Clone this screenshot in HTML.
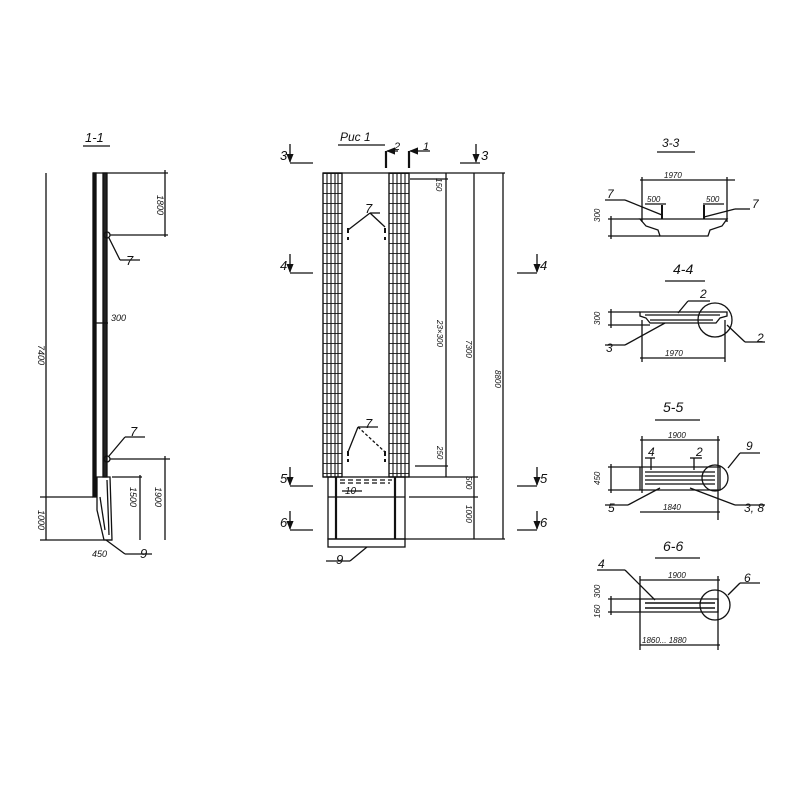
<!DOCTYPE html>
<html><head><meta charset="utf-8"><style>
body{margin:0;background:#fff}
svg{display:block}
text{font-family:"Liberation Sans",sans-serif;font-style:italic;fill:#111}
</style></head><body>
<svg width="800" height="800" viewBox="0 0 800 800" xmlns="http://www.w3.org/2000/svg">
<defs>
<pattern id="rung" x="0" y="173" width="20" height="10" patternUnits="userSpaceOnUse">
<line x1="0" y1="0.5" x2="20" y2="0.5" stroke="#333" stroke-width="0.9"/>
</pattern>
<marker id="ar" viewBox="0 0 10 10" refX="9" refY="5" markerWidth="7" markerHeight="7" orient="auto"><path d="M0 1L10 5L0 9Z" fill="#111"/></marker>
</defs>
<g stroke="#111" fill="none" stroke-width="1.3">
<!-- 1-1 -->
<text x="85" y="142" font-size="13" stroke="none">1-1</text>
<line x1="83" y1="146" x2="110" y2="146"/>
<rect x="93" y="173" width="3" height="324" fill="#111"/>
<rect x="103" y="173" width="4" height="304" fill="#222"/>
<line x1="93" y1="173" x2="107" y2="173"/>
<path d="M97 477 L110 477 L112 540 L104 540 L97 510 Z"/>
<path d="M100 497 L105 530 M107 480 L109 535"/>
<line x1="46" y1="173" x2="46" y2="540"/>
<line x1="40" y1="497" x2="93" y2="497"/>
<line x1="40" y1="540" x2="112" y2="540"/>
<line x1="107" y1="173" x2="168" y2="173"/>
<line x1="165" y1="170" x2="165" y2="237"/>
<line x1="110" y1="235" x2="168" y2="235"/>
<circle cx="107" cy="235" r="3"/>
<line x1="109" y1="238" x2="120" y2="260"/><line x1="120" y1="260" x2="140" y2="260"/>
<circle cx="107" cy="459" r="3"/>
<line x1="109" y1="456" x2="125" y2="437"/><line x1="125" y1="437" x2="145" y2="437"/>
<line x1="110" y1="459" x2="170" y2="459"/>
<line x1="165" y1="456" x2="165" y2="540"/>
<line x1="112" y1="477" x2="142" y2="477"/>
<line x1="140" y1="475" x2="140" y2="540"/>
<line x1="106" y1="540" x2="125" y2="554"/><line x1="125" y1="554" x2="152" y2="554"/>
<line x1="93" y1="323" x2="108" y2="323"/>
</g>
<g font-size="9" stroke="none">
<text x="0" y="0" transform="translate(38,345) rotate(90)">7400</text>
<text x="0" y="0" transform="translate(38,510) rotate(90)">1000</text>
<text x="0" y="0" transform="translate(157,195) rotate(90)">1800</text>
<text x="0" y="0" transform="translate(130,487) rotate(90)">1500</text>
<text x="0" y="0" transform="translate(155,487) rotate(90)">1900</text>
<text x="111" y="321">300</text><text x="92" y="557">450</text>
</g>
<text x="126" y="265" font-size="13">7</text>
<text x="130" y="436" font-size="13">7</text>
<text x="140" y="558" font-size="13">9</text>

<!-- Рис 1 -->
<g stroke="#111" fill="none" stroke-width="1.3">
<text x="340" y="141" font-size="12" stroke="none">Рис 1</text>
<line x1="338" y1="145" x2="385" y2="145"/>
<rect x="323" y="173" width="19" height="304" fill="url(#rung)"/>
<rect x="389" y="173" width="20" height="304" fill="url(#rung)"/>
<path d="M323 173V477M327 173V477M331 173V477M335 173V477M338 173V477M342 173V477" stroke-width="1.1"/>
<path d="M389 173V477M393 173V477M397 173V477M401 173V477M405 173V477M409 173V477" stroke-width="1.1"/>
<line x1="323" y1="173" x2="409" y2="173"/>
<line x1="323" y1="477" x2="342" y2="477"/><line x1="389" y1="477" x2="409" y2="477"/>
<rect x="328" y="477" width="77" height="62"/>
<line x1="336" y1="477" x2="336" y2="539" stroke-width="2.2"/>
<line x1="395" y1="477" x2="395" y2="539" stroke-width="2.2"/>
<line x1="328" y1="497" x2="405" y2="497"/>
<path d="M340 480H392M340 483H390" stroke-dasharray="5 3"/>
<rect x="328" y="539" width="77" height="8"/>
<line x1="367" y1="547" x2="350" y2="561"/><line x1="350" y1="561" x2="326" y2="561"/>
<line x1="342" y1="491" x2="362" y2="491"/>
<line x1="348" y1="230" x2="370" y2="213"/><line x1="370" y1="213" x2="385" y2="227"/><line x1="370" y1="213" x2="380" y2="213"/>
<path d="M348 228v5M348 237v3M385 228v5M385 237v3" stroke-width="2"/>
<line x1="348" y1="452" x2="358" y2="427"/><line x1="358" y1="427" x2="385" y2="452" stroke-dasharray="3 2"/><line x1="358" y1="427" x2="378" y2="427"/>
<path d="M348 451v5M348 459v3M385 451v5M385 459v3" stroke-width="2"/>
<!-- section marks -->
<line x1="290" y1="163" x2="313" y2="163"/><line x1="290" y1="144" x2="290" y2="162" marker-end="url(#ar)"/>
<line x1="460" y1="163" x2="480" y2="163"/><line x1="476" y1="144" x2="476" y2="162" marker-end="url(#ar)"/>
<line x1="290" y1="273" x2="313" y2="273"/><line x1="290" y1="254" x2="290" y2="272" marker-end="url(#ar)"/>
<line x1="517" y1="273" x2="537" y2="273"/><line x1="537" y1="254" x2="537" y2="272" marker-end="url(#ar)"/>
<line x1="290" y1="486" x2="313" y2="486"/><line x1="290" y1="467" x2="290" y2="485" marker-end="url(#ar)"/>
<line x1="517" y1="486" x2="537" y2="486"/><line x1="537" y1="467" x2="537" y2="485" marker-end="url(#ar)"/>
<line x1="290" y1="530" x2="313" y2="530"/><line x1="290" y1="511" x2="290" y2="529" marker-end="url(#ar)"/>
<line x1="517" y1="530" x2="537" y2="530"/><line x1="537" y1="511" x2="537" y2="529" marker-end="url(#ar)"/>
<line x1="386" y1="151" x2="386" y2="168" stroke-width="2.2"/><line x1="398" y1="151" x2="387" y2="151" marker-end="url(#ar)"/>
<line x1="409" y1="151" x2="409" y2="168" stroke-width="2.2"/><line x1="430" y1="151" x2="410" y2="151" marker-end="url(#ar)"/>
<!-- dims -->
<line x1="409" y1="173" x2="505" y2="173"/>
<line x1="410" y1="179" x2="448" y2="179"/>
<line x1="446" y1="173" x2="446" y2="477"/>
<line x1="474" y1="173" x2="474" y2="539"/>
<line x1="503" y1="173" x2="503" y2="539"/>
<line x1="415" y1="466" x2="448" y2="466"/>
<line x1="409" y1="477" x2="478" y2="477"/>
<line x1="409" y1="497" x2="478" y2="497"/>
<line x1="405" y1="539" x2="505" y2="539"/>
</g>
<g font-size="13" stroke="none">
<text x="280" y="160">3</text><text x="481" y="160">3</text>
<text x="280" y="270">4</text><text x="540" y="270">4</text>
<text x="280" y="483">5</text><text x="540" y="483">5</text>
<text x="280" y="527">6</text><text x="540" y="527">6</text>
<text x="365" y="213">7</text><text x="365" y="428">7</text>
<text x="336" y="564">9</text>
<text x="394" y="150" font-size="11">2</text><text x="423" y="150" font-size="11">1</text>
<text x="345" y="494" font-size="10">10</text>
</g>
<g font-size="8" stroke="none">
<text transform="translate(436,178) rotate(90)">150</text>
<text transform="translate(437,320) rotate(90)">23×300</text>
<text transform="translate(437,446) rotate(90)">250</text>
<text transform="translate(466,340) rotate(90)">7300</text>
<text transform="translate(466,476) rotate(90)">500</text>
<text transform="translate(466,505) rotate(90)">1000</text>
<text transform="translate(495,370) rotate(90)">8800</text>
</g>

<!-- right sections -->
<g stroke="#111" fill="none" stroke-width="1.3">
<text x="662" y="147" font-size="12" stroke="none">3-3</text><line x1="657" y1="152" x2="695" y2="152"/>
<line x1="640" y1="180" x2="735" y2="180"/>
<line x1="642" y1="177" x2="642" y2="222"/><line x1="727" y1="177" x2="727" y2="222"/>
<path d="M640 219H727L722 226L710 230L708 236H660L658 230L646 226Z"/>
<line x1="645" y1="204" x2="666" y2="204"/><line x1="703" y1="204" x2="724" y2="204"/>
<line x1="662" y1="205" x2="662" y2="219" stroke-width="2"/><line x1="704" y1="205" x2="704" y2="219" stroke-width="2"/>
<line x1="605" y1="200" x2="625" y2="200"/><line x1="625" y1="200" x2="662" y2="215"/>
<line x1="750" y1="209" x2="735" y2="209"/><line x1="735" y1="209" x2="704" y2="217"/>
<line x1="608" y1="219" x2="640" y2="219"/><line x1="608" y1="236" x2="660" y2="236"/>
<line x1="611" y1="216" x2="611" y2="239"/>

<text x="673" y="274" font-size="14" stroke="none">4-4</text><line x1="665" y1="281" x2="705" y2="281"/>
<path d="M640 312H727V316L720 318L716 323H650L646 318L640 316Z"/>
<path d="M645 315H720M650 320H713"/>
<circle cx="715" cy="320" r="17"/>
<line x1="688" y1="301" x2="710" y2="301"/><line x1="688" y1="301" x2="678" y2="313"/>
<line x1="727" y1="325" x2="745" y2="342"/><line x1="745" y1="342" x2="765" y2="342"/>
<line x1="605" y1="345" x2="625" y2="345"/><line x1="625" y1="345" x2="665" y2="323"/>
<line x1="608" y1="312" x2="640" y2="312"/><line x1="608" y1="325" x2="650" y2="325"/>
<line x1="611" y1="309" x2="611" y2="328"/>
<line x1="640" y1="358" x2="725" y2="358"/>
<line x1="642" y1="320" x2="642" y2="362"/><line x1="725" y1="320" x2="725" y2="362"/>

<text x="663" y="412" font-size="14" stroke="none">5-5</text><line x1="655" y1="420" x2="700" y2="420"/>
<line x1="640" y1="440" x2="720" y2="440"/>
<line x1="642" y1="436" x2="642" y2="493"/><line x1="718" y1="436" x2="718" y2="520"/>
<path d="M640 467H720V490H640Z"/>
<path d="M645 472H715M645 476H715M645 480H715M645 484H715" stroke-width="1.3"/>
<circle cx="715" cy="478" r="13"/>
<line x1="651" y1="458" x2="651" y2="470"/><line x1="645" y1="458" x2="655" y2="458"/>
<line x1="694" y1="458" x2="694" y2="470"/><line x1="690" y1="458" x2="702" y2="458"/>
<line x1="728" y1="468" x2="740" y2="453"/><line x1="740" y1="453" x2="760" y2="453"/>
<line x1="605" y1="505" x2="628" y2="505"/><line x1="628" y1="505" x2="660" y2="488"/>
<line x1="690" y1="488" x2="735" y2="505"/><line x1="735" y1="505" x2="765" y2="505"/>
<line x1="608" y1="467" x2="640" y2="467"/><line x1="608" y1="490" x2="640" y2="490"/>
<line x1="611" y1="464" x2="611" y2="493"/>
<line x1="640" y1="512" x2="720" y2="512"/>

<text x="663" y="551" font-size="14" stroke="none">6-6</text><line x1="655" y1="558" x2="700" y2="558"/>
<line x1="640" y1="580" x2="720" y2="580"/>
<line x1="640" y1="576" x2="640" y2="650"/><line x1="718" y1="576" x2="718" y2="650"/>
<path d="M640 599H718V612H640Z"/>
<path d="M645 603H715M645 608H715" stroke-width="1.5"/>
<circle cx="715" cy="605" r="15"/>
<line x1="597" y1="570" x2="625" y2="570"/><line x1="625" y1="570" x2="655" y2="600"/>
<line x1="728" y1="595" x2="740" y2="583"/><line x1="740" y1="583" x2="760" y2="583"/>
<line x1="608" y1="599" x2="640" y2="599"/><line x1="608" y1="612" x2="640" y2="612"/>
<line x1="611" y1="596" x2="611" y2="615"/>
<line x1="640" y1="645" x2="720" y2="645"/>
</g>
<g font-size="8" stroke="none">
<text x="664" y="178">1970</text>
<text x="647" y="202">500</text><text x="706" y="202">500</text>
<text transform="translate(600,222) rotate(-90)">300</text>
<text x="665" y="356">1970</text>
<text transform="translate(600,325) rotate(-90)">300</text>
<text x="668" y="438">1900</text>
<text x="663" y="510">1840</text>
<text transform="translate(600,485) rotate(-90)">450</text>
<text x="668" y="578">1900</text>
<text x="642" y="643">1860... 1880</text>
<text transform="translate(600,598) rotate(-90)">300</text>
<text transform="translate(600,618) rotate(-90)">160</text>
</g>
<g font-size="12" stroke="none">
<text x="607" y="198">7</text><text x="752" y="208">7</text>
<text x="700" y="298">2</text><text x="757" y="342">2</text><text x="606" y="352">3</text>
<text x="648" y="456">4</text><text x="696" y="456">2</text><text x="746" y="450">9</text>
<text x="608" y="512">5</text><text x="744" y="512">3, 8</text>
<text x="598" y="568">4</text><text x="744" y="582">6</text>
</g>
</svg>
</body></html>
